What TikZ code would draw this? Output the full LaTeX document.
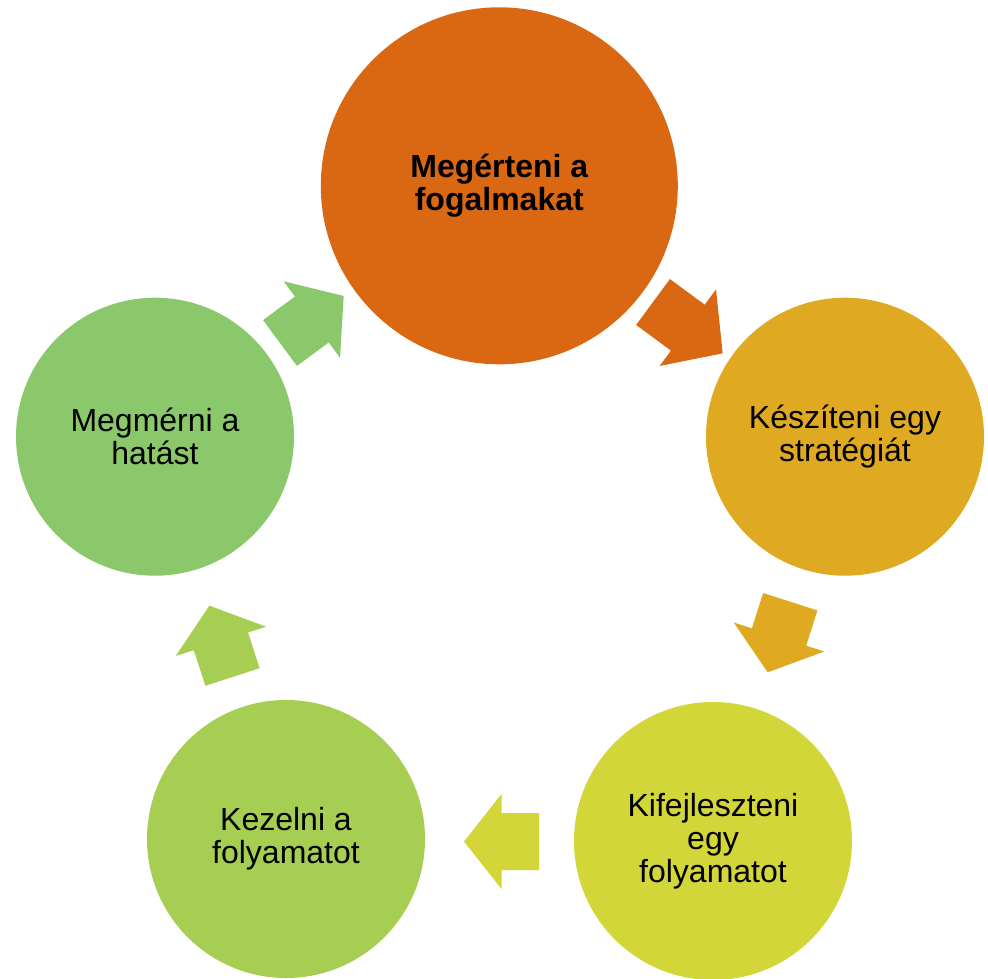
\documentclass[tikz,border=0pt]{standalone}
\usepackage{fontspec}
\setmainfont{Liberation Sans}
\usetikzlibrary{calc}
\definecolor{cOne}{RGB}{218,104,19}
\definecolor{cTwo}{RGB}{223,169,34}
\definecolor{cThree}{RGB}{211,214,56}
\definecolor{cFour}{RGB}{166,206,82}
\definecolor{cFive}{RGB}{139,200,107}
\newcommand\cyclearrow[3]{%
  \coordinate (#1b) at ($(#1)!0.5!(#2)$);
  \fill[#3] ($(#1)!28.5pt!90:(#2)$) -- ($(#1b)!28.5pt!90:(#2)$) -- ($(#1b)!47.5pt!90:(#2)$) -- (#2)
    -- ($(#1b)!47.5pt!-90:(#2)$) -- ($(#1b)!28.5pt!-90:(#2)$) -- ($(#1)!28.5pt!-90:(#2)$) -- cycle;}
\begin{document}
\begin{tikzpicture}[x=1pt,y=-1pt,
  stagecircle/.style={circle, inner sep=0pt, draw=none, align=center, text=black,
    font=\fontsize{32}{33}\selectfont}]
\useasboundingbox (0,0) rectangle (988,978);
\node[stagecircle, fill=cOne, minimum size=357pt, font=\fontsize{32}{33}\selectfont\bfseries] (n1) at (499.3,185.8) {Megérteni a\\fogalmakat};
\node[stagecircle, fill=cTwo, minimum size=278pt] (n2) at (845,436.7) {Készíteni egy\\stratégiát};
\node[stagecircle, fill=cThree, minimum size=278pt] (n3) at (713,841) {Kifejleszteni\\egy\\folyamatot};
\node[stagecircle, fill=cFour, minimum size=278pt] (n4) at (286,839) {Kezelni a\\folyamatot};
\node[stagecircle, fill=cFive, minimum size=278pt] (n5) at (155,436.7) {Megmérni a\\hatást};
% arrows: tail and tip coordinates
\coordinate (a1t) at (653,302);   \coordinate (a1p) at (722.7,353.3);
\coordinate (a2t) at (790.3,601.7); \coordinate (a2p) at (767.7,672.3);
\coordinate (a3t) at (539,841.5); \coordinate (a3p) at (464,841.5);
\coordinate (a4t) at (232.5,677); \coordinate (a4p) at (209.3,605.7);
\coordinate (a5t) at (280,343);   \coordinate (a5p) at (343.7,296);
\cyclearrow{a1t}{a1p}{cOne}
\cyclearrow{a2t}{a2p}{cTwo}
\cyclearrow{a3t}{a3p}{cThree}
\cyclearrow{a4t}{a4p}{cFour}
\cyclearrow{a5t}{a5p}{cFive}
\end{tikzpicture}
\end{document}
